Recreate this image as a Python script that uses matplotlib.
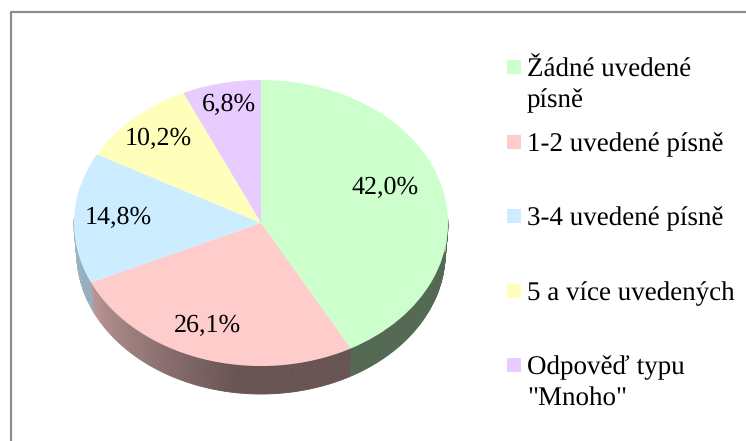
import numpy as np
import matplotlib
matplotlib.use('Agg')
import matplotlib.pyplot as plt
from matplotlib.collections import PolyCollection
from matplotlib.patches import Rectangle

plt.rcParams['font.family'] = ['Liberation Serif', 'DejaVu Serif']
plt.rcParams['text.hinting'] = 'no_hinting'
plt.rcParams['text.hinting_factor'] = 1

W, H = 746, 441

# Chart data
labels = ['Žádné uvedené\npísně', '1-2 uvedené písně', '3-4 uvedené písně',
          '5 a více uvedených', 'Odpověď typu\n"Mnoho"']
values = [42.0, 26.1, 14.8, 10.2, 6.8]
value_labels = ['42,0%', '26,1%', '14,8%', '10,2%', '6,8%']
colors = ['#CCFFCC', '#FFCCCC', '#CCECFF', '#FFFFBB', '#E8CCFF']

# Layout in pixels
CX, CY, RX, RY = 261, 223, 187, 143
DEPTH = 28
BOTTOM_K = 0.985  # bottom rim is a little smaller, perspective
LEGEND_Y = [67, 142, 216, 291, 365]
LEGEND_LINE = 31
LABEL_XY = [(385, 188), (207, 326), (118, 218), (158, 139), (229, 105)]


def shade(color, angle):
  # side wall gets darker going from the left round to the front
  k = np.interp(angle, [180, 205, 262, 360], [0.78, 0.73, 0.41, 0.41])
  return tuple(np.array(matplotlib.colors.to_rgb(color)) * k)


fig = plt.figure(figsize=(W / 100, H / 100), dpi=100)

# whole-figure axes in pixel coords, for frame and legend
bg = fig.add_axes([0, 0, 1, 1])
bg.set_xlim(0, W)
bg.set_ylim(H, 0)
bg.axis('off')
bg.plot([11, 11, W], [H, 12, 12], color='#8c8c8c', lw=1.6, solid_capstyle='butt')

for y, lab, col in zip(LEGEND_Y, labels, colors):
  bg.add_patch(Rectangle((507, y - 7), 14, 14, fc=col, ec='none'))
  for n, line in enumerate(lab.split('\n')):
    bg.text(527, y + 9.5 + n * LEGEND_LINE, line, fontsize=19.1, va='baseline', ha='left', color='black')

# pie axes stretched to the ellipse size
ax = fig.add_axes([(CX - RX) / W, 1 - (CY + RY) / H, 2 * RX / W, 2 * RY / H])
fracs = np.array(values) / sum(values)
edges = 90 - 360 * np.concatenate([[0], np.cumsum(fracs)])

# side wall, built from the data's slice angles
depth = DEPTH / RY + 1 - BOTTOM_K
polys, facecolors = [], []
for i, col in enumerate(colors):
  a0, a1 = edges[i + 1], edges[i]
  for a in np.arange(a0, a1, 1.0):
    b = min(a + 1.0, a1)
    s0, s1 = np.sin(np.radians(a)), np.sin(np.radians(b))
    if s0 > 0.02 and s1 > 0.02:
      continue
    c0, c1 = np.cos(np.radians(a)), np.cos(np.radians(b))
    polys.append([(c0, s0), (c1, s1),
                  (c1 * BOTTOM_K, s1 * BOTTOM_K - depth), (c0 * BOTTOM_K, s0 * BOTTOM_K - depth)])
    facecolors.append(shade(col, (a + 360) % 360))
ax.add_collection(PolyCollection(polys, facecolors=facecolors, edgecolors=facecolors, linewidths=0.6, clip_on=False))

wedges, _ = ax.pie(values, colors=colors, startangle=90, counterclock=False, radius=1,
                   wedgeprops={'linewidth': 0})
ax.set_aspect('auto')
ax.set_xlim(-1, 1)
ax.set_ylim(-1, 1)
for w in wedges:
  w.set_clip_on(False)

# value labels go on a top axes so the pie can't cover them
top = fig.add_axes([0, 0, 1, 1], sharex=bg, sharey=bg)
top.axis('off')
top.patch.set_alpha(0)
for (x, y), txt in zip(LABEL_XY, value_labels):
  top.text(x, y, txt, fontsize=18.8, ha='center', va='center', color='black')

fig.savefig('out.png', dpi=100)
